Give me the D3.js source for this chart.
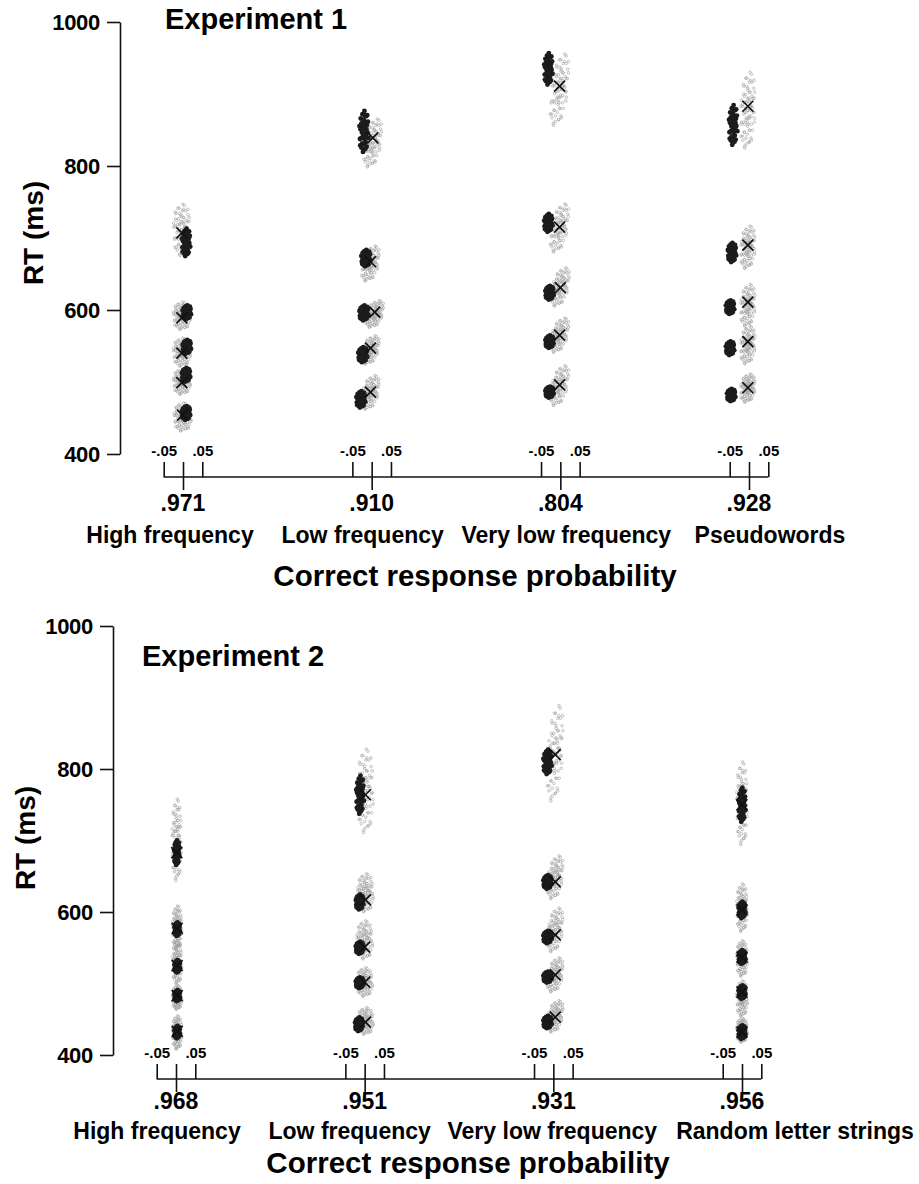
<!DOCTYPE html>
<html>
<head>
<meta charset="utf-8">
<script src="https://cdn.jsdelivr.net/npm/d3@7"></script>
<style>
  body { margin: 0; background: #fff; }
  svg { display: block; font-family: "Liberation Sans", Arial, Helvetica, sans-serif; font-weight: bold; }
</style>
</head>
<body>
<svg id="chart" width="919" height="1184"></svg>
<script>
// ---- data ----
const yTicks = [400, 600, 800, 1000];
const offsetTicks = [-0.05, 0, 0.05];

// Experiment 1
const exp1Conditions = ['High frequency', 'Low frequency', 'Very low frequency', 'Pseudowords'];
const exp1Accuracy = ['.971', '.910', '.804', '.928'];
// dark points = data, 5 quantiles (.9 -> .1), RT in ms, accuracy offset from label
const exp1DataRT = [[694, 597, 549, 510, 457], [848, 672, 596, 538, 476], [935, 721, 624, 556, 486], [857, 680, 604, 547, 482]];
const exp1DataDP = [[.008, .01, .01, .008, .008], [-.02, -.015, -.02, -.023, -.028], [-.031, -.031, -.028, -.028, -.028], [-.041, -.044, -.049, -.049, -.046]];
const exp1DarkHalf = [[20, 10, 10, 10, 10], [30, 12, 11, 11, 12], [23, 13, 10, 9, 8], [29, 14, 10, 10, 9]];
// X = model prediction
const exp1ModelRT = [[707, 589, 540, 499, 454], [839, 667, 597, 547, 486], [911, 715, 631, 565, 496], [883, 690, 611, 556, 492]];
const exp1ModelDP = [[-.003, -.003, -.003, -.003, -.001], [.003, -.003, .008, -.003, -.003], [-.002, -.002, 0, -.002, -.002], [-.003, -.003, -.003, -.003, -.003]];
// grey cloud = model variability, RT range
const exp1GrayLo = [[674, 572, 521, 482, 431], [797, 639, 575, 524, 461], [854, 679, 604, 540, 466], [822, 656, 576, 524, 471]];
const exp1GrayHi = [[749, 612, 562, 519, 472], [867, 690, 614, 565, 510], [958, 749, 660, 590, 524], [933, 718, 637, 579, 512]];
const exp1GrayWidth = [.024, .022, .022, .02];
const exp1DarkWidth = [.012, .013, .012, .012];
const exp1GrayTilt = [0, .01, .012, .004];

// Experiment 2
const exp2Conditions = ['High frequency', 'Low frequency', 'Very low frequency', 'Random letter strings'];
const exp2Accuracy = ['.968', '.951', '.931', '.956'];
const exp2DataRT = [[683, 576, 524, 483, 432], [764, 614, 550, 501, 443], [810, 642, 565, 509, 446], [750, 603, 537, 488, 432]];
const exp2DataDP = [[.002, .003, .003, .003, .003], [-.012, -.013, -.013, -.013, -.015], [-.015, -.015, -.015, -.015, -.015], [0, 0, 0, 0, 0]];
const exp2DarkHalf = [[18, 10, 9, 8, 9], [28, 11, 9, 8, 10], [18, 10, 9, 8, 9], [25, 12, 10, 10, 10]];
const exp2ModelRT = [[683, 577, 525, 483, 433], [764, 617, 551, 502, 446], [820, 642, 568, 512, 453], [750, 603, 537, 488, 432]];
const exp2ModelDP = [[.002, .003, .003, .003, .003], [.002, .002, .0, .0, .002], [.005, .005, .005, .005, .005], [0, 0, 0, 0, 0]];
const exp2GrayLo = [[641, 547, 498, 463, 407], [708, 599, 533, 481, 428], [752, 617, 543, 487, 431], [691, 571, 509, 453, 417]];
const exp2GrayHi = [[761, 610, 561, 498, 456], [831, 655, 589, 523, 467], [892, 680, 607, 537, 477], [813, 641, 561, 505, 452]];
const exp2GrayWidth = [.013, .022, .02, .015];
const exp2DarkWidth = [.008, .011, .012, .01];
const exp2GrayTilt = [0, 0, .008, 0];

// fixed scatter pattern (unit square) used to draw each cloud
const cloudShape = [
  [0, 0], [.3, .1], [-.25, .2], [.1, -.35], [-.15, -.2], [.45, -.15], [-.4, -.05], [.2, .45], [-.1, .55], [.05, -.6],
  [.6, .3], [-.55, .35], [.35, -.5], [-.35, -.55], [.7, -.05], [-.7, .1], [.15, .75], [-.3, .8], [.4, .7], [-.05, -.85],
  [.3, -.8], [-.5, -.75], [.8, .45], [-.8, -.35], [.55, -.7], [-.65, .6], [.9, -.3], [-.9, .25], [.1, .95], [-.2, -.95],
  [.65, .75], [-.75, -.65], [.2, .2], [-.2, -.05], [.05, .3], [.25, -.2], [-.35, .4], [.5, .1], [-.5, -.3], [0, -.3]
];

// ---- layout ----
const panels = [
  {
    title: 'Experiment 1', conds: exp1Conditions, acc: exp1Accuracy,
    dataRT: exp1DataRT, dataDP: exp1DataDP, darkHalf: exp1DarkHalf,
    modelRT: exp1ModelRT, modelDP: exp1ModelDP, grayLo: exp1GrayLo, grayHi: exp1GrayHi,
    grayWidth: exp1GrayWidth, darkWidth: exp1DarkWidth, grayTilt: exp1GrayTilt,
    yTop: 22, yBottom: 454, axisX: 120, xFirst: 183, xLast: 749, xAxisY: 477,
    titleX: 165, titleY: 29, ylabX: 43, ylabY: 233,
    accDy: 34, catDy: 66, xtitleDy: 109, labelShift: [-13, -9, 6, 21]
  },
  {
    title: 'Experiment 2', conds: exp2Conditions, acc: exp2Accuracy,
    dataRT: exp2DataRT, dataDP: exp2DataDP, darkHalf: exp2DarkHalf,
    modelRT: exp2ModelRT, modelDP: exp2ModelDP, grayLo: exp2GrayLo, grayHi: exp2GrayHi,
    grayWidth: exp2GrayWidth, darkWidth: exp2DarkWidth, grayTilt: exp2GrayTilt,
    yTop: 626, yBottom: 1055, axisX: 113, xFirst: 176, xLast: 742, xAxisY: 1079,
    titleX: 142, titleY: 666, ylabX: 35, ylabY: 838,
    accDy: 30, catDy: 60, xtitleDy: 94, labelShift: [-19, -15, -1, 53]
  }
];

const svg = d3.select('#chart');
svg.append('rect').attr('width', 919).attr('height', 1184).attr('fill', '#fff');

const fontFam = '"Liberation Sans", Arial, Helvetica, sans-serif';

function drawPanel(p) {
  const g = svg.append('g');
  const y = d3.scaleLinear().domain([400, 1000]).range([p.yBottom, p.yTop]);
  const gx = d3.scalePoint().domain(p.conds).range([p.xFirst, p.xLast]);
  const off = d3.scaleLinear().domain([-0.05, 0.05]).range([-19.3, 19.3]);

  // y axis
  g.append('g')
    .attr('transform', 'translate(' + p.axisX + ',0)')
    .call(d3.axisLeft(y).tickValues(yTicks).tickFormat(d3.format('d')).tickSize(13).tickSizeOuter(0).tickPadding(7))
    .call(a => a.selectAll('line, path').attr('stroke', '#111').attr('stroke-width', 1.6))
    .call(a => a.selectAll('text').attr('fill', '#000')
      .style('font-family', fontFam).style('font-size', '22px').style('font-weight', 'bold')
      .attr('letter-spacing', -0.3));

  g.append('text')
    .attr('transform', 'translate(' + p.ylabX + ',' + p.ylabY + ') rotate(-90)')
    .attr('text-anchor', 'middle').attr('font-size', 28)
    .text('RT (ms)');

  g.append('text')
    .attr('x', p.titleX).attr('y', p.titleY)
    .attr('font-size', 29)
    .text(p.title);

  // x axis: one small axis per condition, joined by a line
  g.append('line')
    .attr('x1', gx(p.conds[0]) + off(-0.05))
    .attr('x2', gx(p.conds[p.conds.length - 1]) + off(0.05))
    .attr('y1', p.xAxisY).attr('y2', p.xAxisY)
    .attr('stroke', '#111').attr('stroke-width', 1.6);

  p.conds.forEach((c, i) => {
    const ax = g.append('g')
      .attr('transform', 'translate(' + gx(c) + ',' + p.xAxisY + ')')
      .call(d3.axisTop(off).tickValues(offsetTicks).tickSize(15).tickPadding(6)
        .tickFormat(d => d === 0 ? '' : (d < 0 ? '-' : '') + d3.format('.2f')(Math.abs(d)).slice(1)));
    ax.select('.domain').remove();
    ax.selectAll('line').attr('stroke', '#111').attr('stroke-width', 1.6);
    ax.selectAll('text').attr('fill', '#000')
      .style('font-family', fontFam).style('font-size', '15px').style('font-weight', 'bold');
    ax.selectAll('.tick').filter(d => d === 0).select('line').attr('y1', 13);

    g.append('text')
      .attr('x', gx(c)).attr('y', p.xAxisY + p.accDy)
      .attr('text-anchor', 'middle').attr('font-size', 23)
      .text(p.acc[i]);

    g.append('text')
      .attr('x', gx(c) + p.labelShift[i]).attr('y', p.xAxisY + p.catDy)
      .attr('text-anchor', 'middle').attr('font-size', 23)
      .text(c);
  });

  g.append('text')
    .attr('x', (gx(p.conds[0]) + gx(p.conds[p.conds.length - 1])) / 2 + 9)
    .attr('y', p.xAxisY + p.xtitleDy)
    .attr('text-anchor', 'middle').attr('font-size', 29.5)
    .text('Correct response probability');

  // clouds
  const grayPts = [], darkPts = [], marks = [];
  const grayShape = cloudShape.concat(cloudShape.map(([u, v]) => [-v * 0.95, u]));
  p.conds.forEach((c, i) => {
    const cx = gx(c);
    p.dataRT[i].forEach((rt, q) => {
      const lo = p.grayLo[i][q], hi = p.grayHi[i][q];
      const mid = (lo + hi) / 2, half = (hi - lo) / 2;
      const mdp = p.modelDP[i][q];
      grayShape.forEach(([u, v]) => grayPts.push({
        x: cx + off(mdp + u * p.grayWidth[i] + v * p.grayTilt[i]),
        y: y(mid + v * half)
      }));
      cloudShape.forEach(([u, v]) => darkPts.push({
        x: cx + off(p.dataDP[i][q] + u * p.darkWidth[i]),
        y: y(rt + v * p.darkHalf[i][q])
      }));
      marks.push({ x: cx + off(mdp), y: y(p.modelRT[i][q]) });
    });
  });

  g.append('g').selectAll('circle').data(grayPts).join('circle')
    .attr('cx', d => d.x).attr('cy', d => d.y).attr('r', 1.3)
    .attr('fill', 'none').attr('stroke', '#9c9c9c').attr('stroke-width', 0.6);

  g.append('g').selectAll('circle').data(darkPts).join('circle')
    .attr('cx', d => d.x).attr('cy', d => d.y).attr('r', 2.4)
    .attr('fill', '#1c1c1c');

  g.append('g').selectAll('path').data(marks).join('path')
    .attr('transform', d => 'translate(' + d.x + ',' + d.y + ')')
    .attr('d', 'M-5.5,-5.5L5.5,5.5M-5.5,5.5L5.5,-5.5')
    .attr('stroke', '#111').attr('stroke-width', 1.7).attr('fill', 'none');
}

panels.forEach(drawPanel);
</script>
</body>
</html>
